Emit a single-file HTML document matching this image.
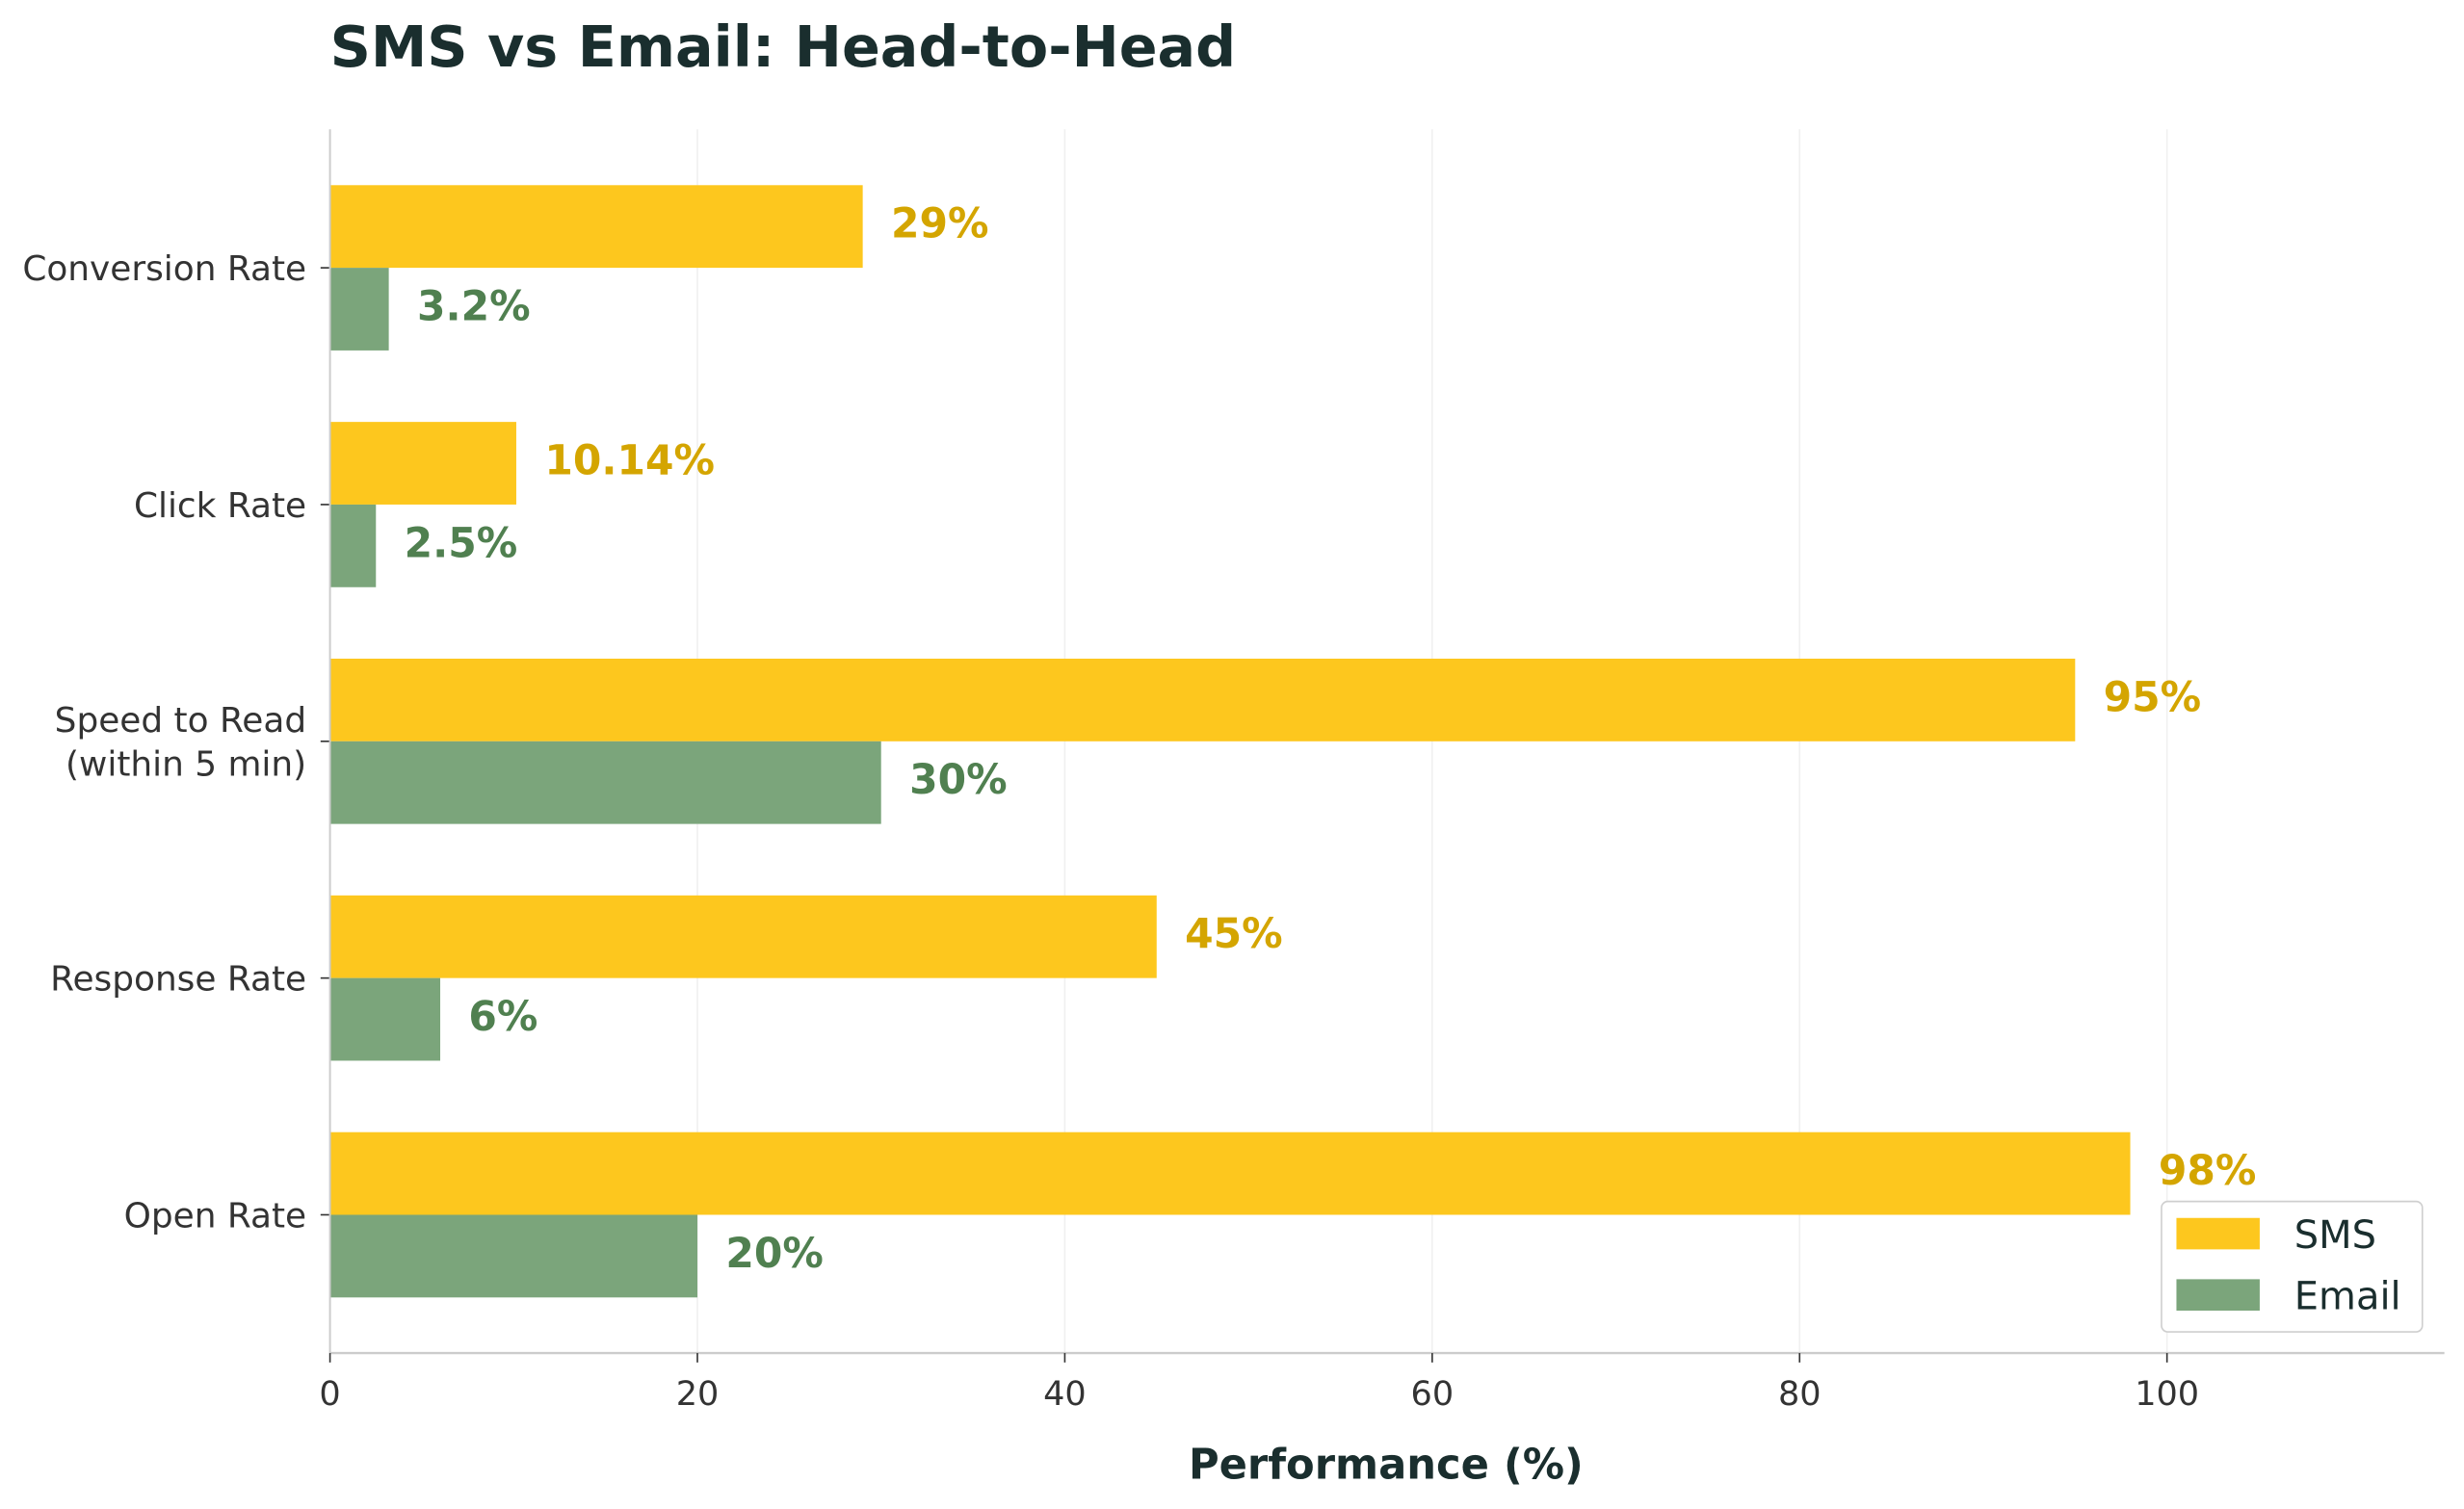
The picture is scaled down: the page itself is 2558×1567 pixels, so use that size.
<!DOCTYPE html>
<html><head><meta charset="utf-8"><style>
html,body{margin:0;padding:0;background:#fff;}
svg{display:block;font-family:"DejaVu Sans","Liberation Sans",sans-serif;}
</style></head><body>
<svg id="chart" width="2558" height="1567" viewBox="0 0 1568 960" xmlns="http://www.w3.org/2000/svg">
<rect width="1568" height="960" fill="#fff"/>
<text x="210" y="42" font-size="36" font-weight="bold" fill="#1a2e2e">SMS vs Email: Head-to-Head</text>
<g id="grid"></g><g id="bars"></g><g id="labels"></g><g id="axes"></g>
<text x="882" y="941" text-anchor="middle" font-size="26.5" font-weight="bold" fill="#1a2e2e">Performance (%)</text>
<g>
<rect x="1375.5" y="764.5" width="166" height="83" rx="4" fill="#fff" stroke="#cfcfcf"/>
<rect x="1385" y="775" width="53" height="20" fill="#FDC71E"/>
<text x="1460" y="794" font-size="24.5" fill="#1a2e2e">SMS</text>
<rect x="1385" y="814" width="53" height="20" fill="#7BA57B"/>
<text x="1460" y="833" font-size="24.5" fill="#1a2e2e">Email</text>
</g>
</svg>
<script>
const categories = ["Open Rate", "Response Rate", "Speed to Read\n(within 5 min)", "Click Rate", "Conversion Rate"];
const smsValues = [98, 45, 95, 10.14, 29];
const emailValues = [20, 6, 30, 2.5, 3.2];
const smsLabels = ["98%", "45%", "95%", "10.14%", "29%"];
const emailLabels = ["20%", "6%", "30%", "2.5%", "3.2%"];
const xTicks = [0, 20, 40, 60, 80, 100];

const NS = "http://www.w3.org/2000/svg";
const X0 = 210, XPX = 11.69, XMAX = 115.1;
const PT = 82, PB = 861;
const xs = v => X0 + v * XPX;
const yc = i => 773 - i * 150.7;
const BH = 52.6;
function mk(tag, attrs, parent, txt) {
  const e = document.createElementNS(NS, tag);
  for (const k in attrs) e.setAttribute(k, attrs[k]);
  if (txt !== undefined) e.textContent = txt;
  parent.appendChild(e);
  return e;
}
const grid = document.getElementById('grid'), bars = document.getElementById('bars'),
      labels = document.getElementById('labels'), axes = document.getElementById('axes');
xTicks.forEach(t => {
  if (t === 0) return;
  const g = mk('line', {x1: xs(t), x2: xs(t), y1: PT, y2: PB, stroke: '#f0f0f0', 'stroke-width': 1}, grid);
  
  
});
categories.forEach((c, i) => {
  const y = yc(i);
  const b1 = mk('rect', {x: X0, y: y - BH, width: xs(smsValues[i]) - X0, height: BH, fill: '#FDC71E'}, bars);
  
  
  const b2 = mk('rect', {x: X0, y: y, width: xs(emailValues[i]) - X0, height: BH, fill: '#7BA57B'}, bars);
  
  
  const l1 = mk('text', {x: xs(smsValues[i]) + 18, y: y - BH / 2 + 7, 'font-size': 26, 'font-weight': 'bold', fill: '#D4A500'}, labels, smsLabels[i]);
  
  
  const l2 = mk('text', {x: xs(emailValues[i]) + 18, y: y + BH / 2 + 7, 'font-size': 26, 'font-weight': 'bold', fill: '#508050'}, labels, emailLabels[i]);
  
  
  const tk = mk('line', {x1: 204, x2: X0, y1: y, y2: y, stroke: '#333', 'stroke-width': 1}, axes);
  
  
  const lines = c.split('\n');
  lines.forEach((ln, j) => {
    const off = (j - (lines.length - 1) / 2) * 28;
    const t = mk('text', {x: 195, y: y + off + 8, 'text-anchor': 'end', 'font-size': 22, fill: '#333'}, axes, ln);
    
    
  });
});
const ls = mk('line', {x1: X0, x2: X0, y1: PT, y2: PB, stroke: '#cccccc', 'stroke-width': 1.2}, axes);


const bs = mk('line', {x1: X0, x2: xs(XMAX), y1: PB, y2: PB, stroke: '#cccccc', 'stroke-width': 1.5}, axes);


xTicks.forEach(t => {
  const tk = mk('line', {x1: xs(t), x2: xs(t), y1: PB, y2: PB + 6, stroke: '#333', 'stroke-width': 1}, axes);
  
  
  const tl = mk('text', {x: xs(t), y: 894, 'text-anchor': 'middle', 'font-size': 21.5, fill: '#333'}, axes, String(t));
  
  
});
</script>
</body></html>
